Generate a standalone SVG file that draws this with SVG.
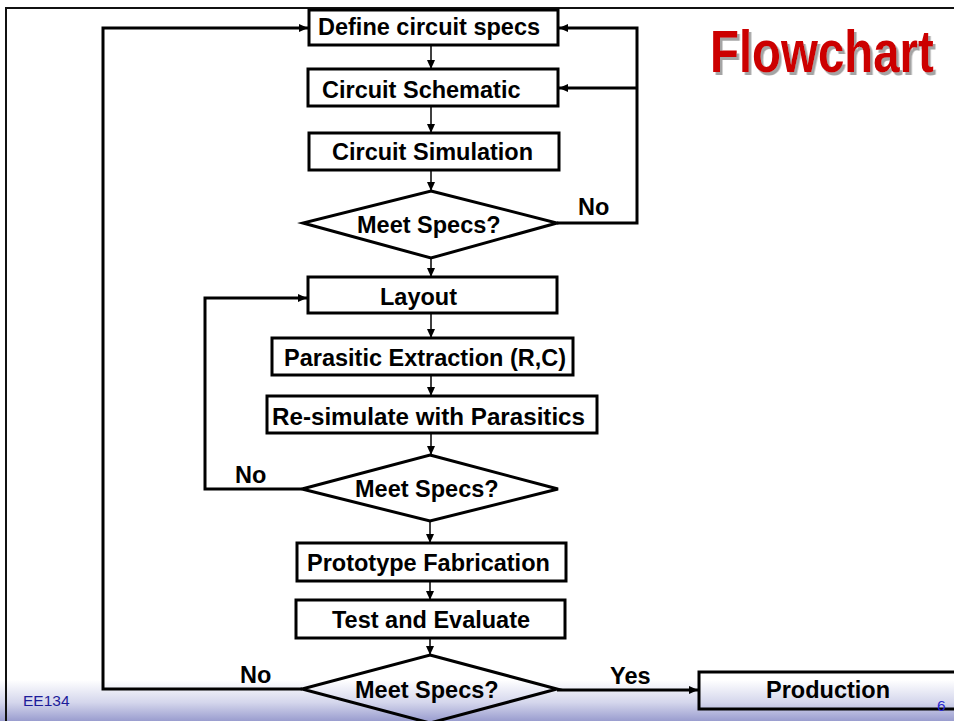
<svg xmlns="http://www.w3.org/2000/svg" width="954" height="721" viewBox="0 0 954 721">
  <defs>
    <linearGradient id="band" x1="0" y1="0" x2="0" y2="1">
      <stop offset="0" stop-color="#ffffff"/>
      <stop offset="0.55" stop-color="#d4d6ec"/>
      <stop offset="1" stop-color="#9a9dcf"/>
    </linearGradient>
    <filter id="shadow" x="-5%" y="-10%" width="115%" height="130%">
      <feDropShadow dx="2.5" dy="3" stdDeviation="0.6" flood-color="#9a9a9a" flood-opacity="0.9"/>
    </filter>
    <marker id="arr" markerUnits="userSpaceOnUse" markerWidth="10" markerHeight="8" refX="9" refY="4" orient="auto">
      <path d="M0,0 L9,4 L0,8 z" fill="#000"/>
    </marker>
    <style>
      .box { fill: none; stroke: #000; stroke-width: 3; }
      .dia { fill: none; stroke: #000; stroke-width: 3; stroke-linejoin: miter; }
      .lbl { font-family: "Liberation Sans", Arial, sans-serif; font-weight: bold; font-size: 23.5px; fill: #000; }
      .c { fill: none; stroke: #000; stroke-width: 1.5; }
      .fb { fill: none; stroke: #000; stroke-width: 3; }
      .foot { font-family: "Liberation Sans", Arial, sans-serif; font-size: 15.5px; fill: #1c1c9a; }
      .title { font-family: "Liberation Sans", Arial, sans-serif; font-weight: bold; font-size: 60px; fill: #cc0000; }
    </style>
  </defs>

  <rect x="0" y="0" width="954" height="721" fill="#ffffff"/>
  <rect x="0" y="680" width="954" height="41" fill="url(#band)"/>
  <path d="M6,721 L6,8 L954,8" fill="none" stroke="#111" stroke-width="2"/>

  <g id="title" filter="url(#shadow)">
    <text class="title" transform="translate(710,72) scale(0.79,1)" x="0" y="0">Flowchart</text>
  </g>

  <g id="connectors">
    <line class="c" x1="431" y1="45" x2="431" y2="69" marker-end="url(#arr)"/>
    <line class="c" x1="431" y1="106" x2="431" y2="133" marker-end="url(#arr)"/>
    <line class="c" x1="431" y1="170" x2="431" y2="191" marker-end="url(#arr)"/>
    <line class="c" x1="431" y1="258" x2="431" y2="277" marker-end="url(#arr)"/>
    <line class="c" x1="431" y1="313" x2="431" y2="338" marker-end="url(#arr)"/>
    <line class="c" x1="431" y1="375" x2="431" y2="396" marker-end="url(#arr)"/>
    <line class="c" x1="431" y1="433" x2="431" y2="455" marker-end="url(#arr)"/>
    <line class="c" x1="430" y1="521" x2="430" y2="543" marker-end="url(#arr)"/>
    <line class="c" x1="430" y1="581" x2="430" y2="600" marker-end="url(#arr)"/>
    <line class="c" x1="430" y1="638" x2="430" y2="655" marker-end="url(#arr)"/>
    <polyline class="fb" points="557,223 637,223 637,28 559,28" marker-end="url(#arr)"/>
    <line class="fb" x1="637" y1="88" x2="559" y2="88" marker-end="url(#arr)"/>
    <polyline class="fb" points="302,689 103,689 103,28 308,28" marker-end="url(#arr)"/>
    <polyline class="fb" points="302,489 205,489 205,298 307,298" marker-end="url(#arr)"/>
    <line class="fb" x1="557" y1="690" x2="698" y2="690" marker-end="url(#arr)"/>
    <text class="lbl" x="578" y="215">No</text>
    <text class="lbl" x="235" y="483">No</text>
    <text class="lbl" x="240" y="683">No</text>
    <text class="lbl" x="610" y="684">Yes</text>
  </g>

  <g id="define">
    <rect class="box" x="309" y="10" width="249" height="35"/>
    <text class="lbl" x="318" y="35">Define circuit specs</text>
  </g>
  <g id="schematic">
    <rect class="box" x="308" y="69" width="250" height="37"/>
    <text class="lbl" x="322" y="98">Circuit Schematic</text>
  </g>
  <g id="simulation">
    <rect class="box" x="309" y="133" width="250" height="37"/>
    <text class="lbl" x="332" y="160">Circuit Simulation</text>
  </g>
  <g id="meet1">
    <polygon class="dia" points="431,191 557,223 431,258 303,223"/>
    <text class="lbl" x="357" y="233">Meet Specs?</text>
  </g>
  <g id="layout">
    <rect class="box" x="308" y="277" width="249" height="36"/>
    <text class="lbl" x="380" y="305">Layout</text>
  </g>
  <g id="extraction">
    <rect class="box" x="272" y="338" width="301" height="37"/>
    <text class="lbl" x="284" y="366">Parasitic Extraction (R,C)</text>
  </g>
  <g id="resimulate">
    <rect class="box" x="267" y="396" width="330" height="37"/>
    <text class="lbl" x="272" y="425" textLength="313" lengthAdjust="spacingAndGlyphs">Re-simulate with Parasitics</text>
  </g>
  <g id="meet2">
    <polygon class="dia" points="430,455 558,489 430,521 302,489"/>
    <text class="lbl" x="355" y="497">Meet Specs?</text>
  </g>
  <g id="prototype">
    <rect class="box" x="297" y="543" width="269" height="38"/>
    <text class="lbl" x="307" y="571">Prototype Fabrication</text>
  </g>
  <g id="test">
    <rect class="box" x="296" y="600" width="269" height="38"/>
    <text class="lbl" x="332" y="628">Test and Evaluate</text>
  </g>
  <g id="meet3">
    <polygon class="dia" points="430,655 557,689 430,723 302,689"/>
    <text class="lbl" x="355" y="698">Meet Specs?</text>
  </g>
  <g id="production">
    <rect class="box" x="699" y="672" width="270" height="37"/>
    <text class="lbl" x="766" y="698">Production</text>
  </g>

  <g id="footer">
    <text class="foot" x="23" y="706">EE134</text>
    <text class="foot" x="937" y="711" style="fill:#2a2ad0">6</text>
  </g>
</svg>
